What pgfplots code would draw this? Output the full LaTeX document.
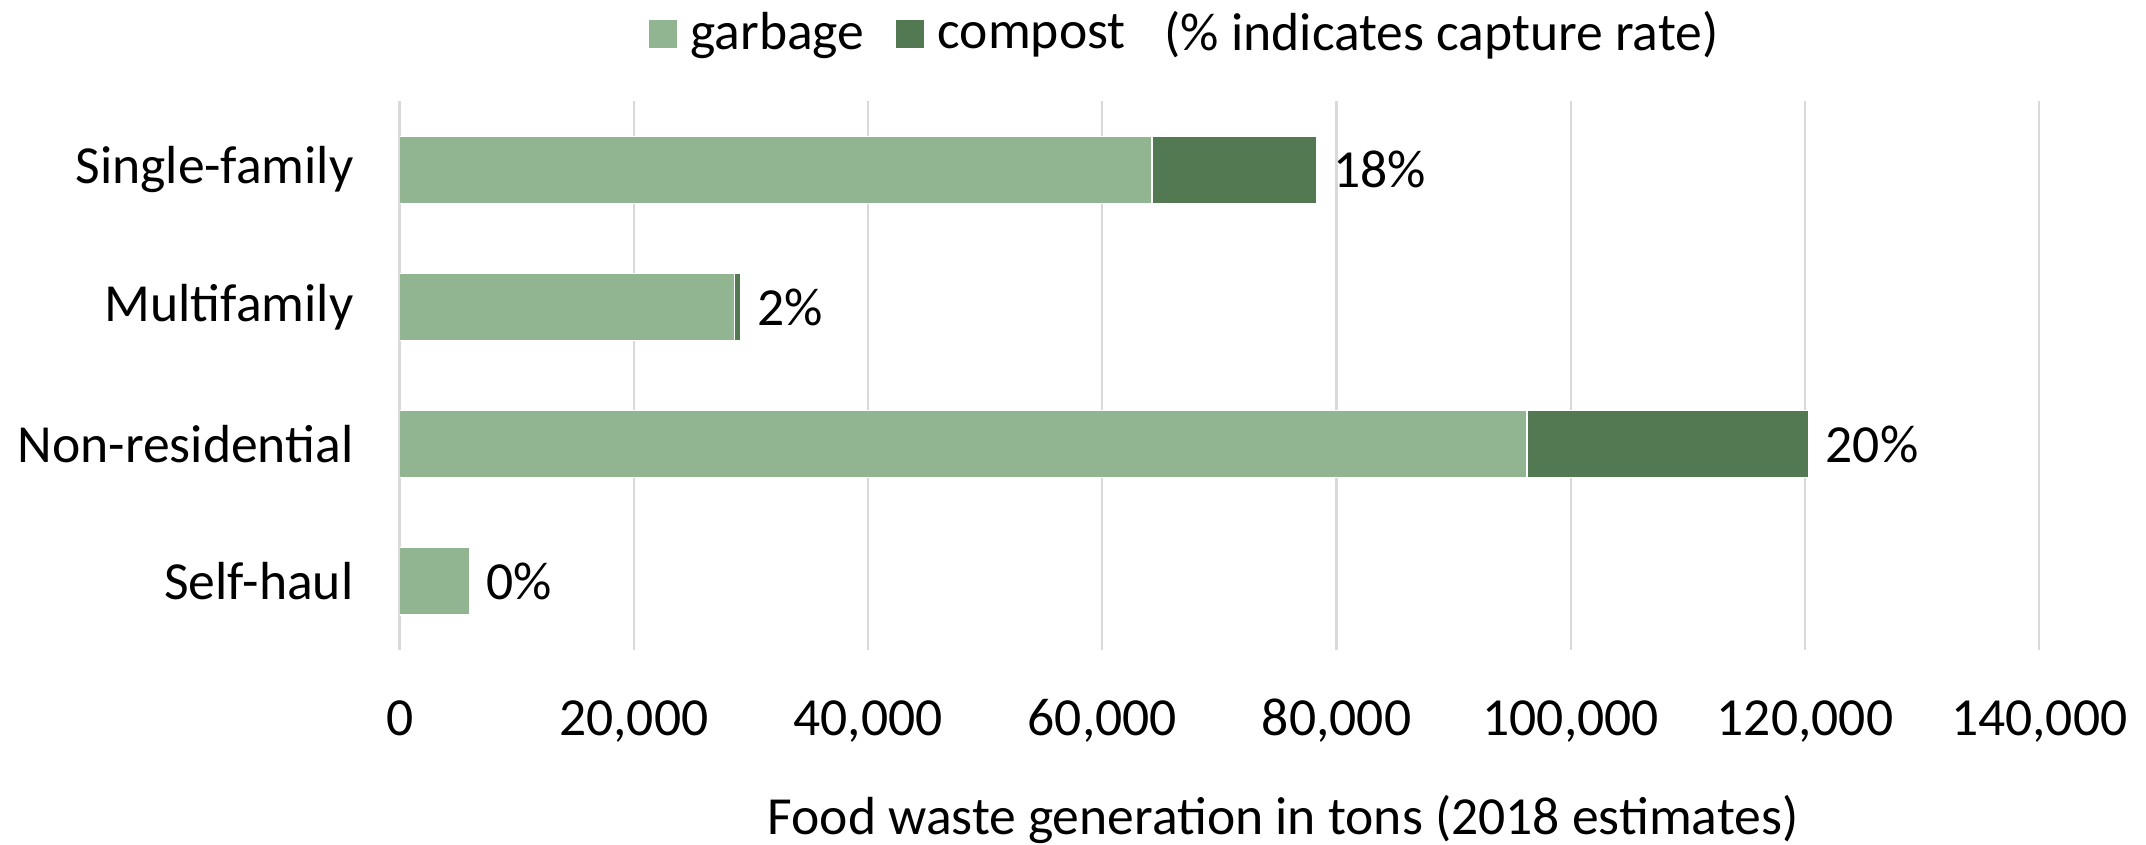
\documentclass[border=0pt]{standalone}
\usepackage{fontspec}
\setmainfont{Carlito}
\usepackage{pgfplots}
\pgfplotsset{compat=1.18}
\definecolor{lg}{RGB}{145,181,145}
\definecolor{dg}{RGB}{82,121,82}
\definecolor{gridc}{RGB}{217,217,217}
\begin{document}
\begin{tikzpicture}[font=\fontsize{13.4}{16}\selectfont]
\useasboundingbox (-99.9pt,-48.75pt) rectangle (436.6pt,162.5pt);
\begin{axis}[
 at={(0,0)}, anchor=south west,
 scale only axis, width=409.9pt, height=137.2pt,
 xbar stacked, bar width=16.8pt,
 xmin=0, xmax=140000, ymin=-0.5, ymax=3.5, y dir=reverse,
 ytick={0,1,2,3}, yticklabels={Single-family,Multifamily,Non-residential,Self-haul},
 xtick={0,20000,40000,60000,80000,100000,120000,140000},
 xmajorgrids, major grid style={gridc, line width=0.6pt},
 axis line style={draw=none}, major tick length=0pt,
 /pgf/number format/assume math mode=true,
 /pgf/number format/fixed, /pgf/number format/1000 sep={,},
 scaled x ticks=false,
 xticklabel style={anchor=base, yshift=-21.4pt},
 yticklabel style={anchor=east, xshift=-8pt},
 xlabel={Food waste generation in tons (2018 estimates)},
 xlabel style={at={(axis description cs:0.5388,0)}, anchor=center, yshift=-42.5pt},
 legend style={at={(axis description cs:0.1521,1.122)}, anchor=west, draw=none, fill=none,
   inner sep=0pt, outer sep=0pt,
   legend columns=-1,
   /tikz/every odd column/.append style={column sep=3.3pt},
   /tikz/every even column/.append style={column sep=8pt},
   nodes={inner sep=0pt, outer sep=0pt}},
]
\addplot[fill=lg, draw=white, line width=0.3pt,
  legend image code/.code={\fill[lg] (0pt,-3.375pt) rectangle (6.75pt,3.375pt);}]
  coordinates {(64250,0) (28620,1) (96260,2) (5960,3)};
\addlegendentry{garbage}
\addplot[fill=dg, draw=white, line width=0.3pt,
  legend image code/.code={\fill[dg] (0pt,-3.375pt) rectangle (6.75pt,3.375pt);}]
  coordinates {(14020,0) (470,1) (24070,2) (0,3)};
\addlegendentry{compost}
\addlegendimage{empty legend}
\addlegendentry{\hspace{-1.6pt}(\% indicates capture rate)}
\addplot[draw=none, fill=none, forget plot,
  nodes near coords, point meta=explicit symbolic,
  every node near coord/.append style={anchor=west, text=black, xshift=0.7pt}]
  coordinates {(0.001,0) [18\%] (0.001,1) [2\%] (0.001,2) [20\%] (0.001,3) [0\%]};
\end{axis}
\end{tikzpicture}
\end{document}
